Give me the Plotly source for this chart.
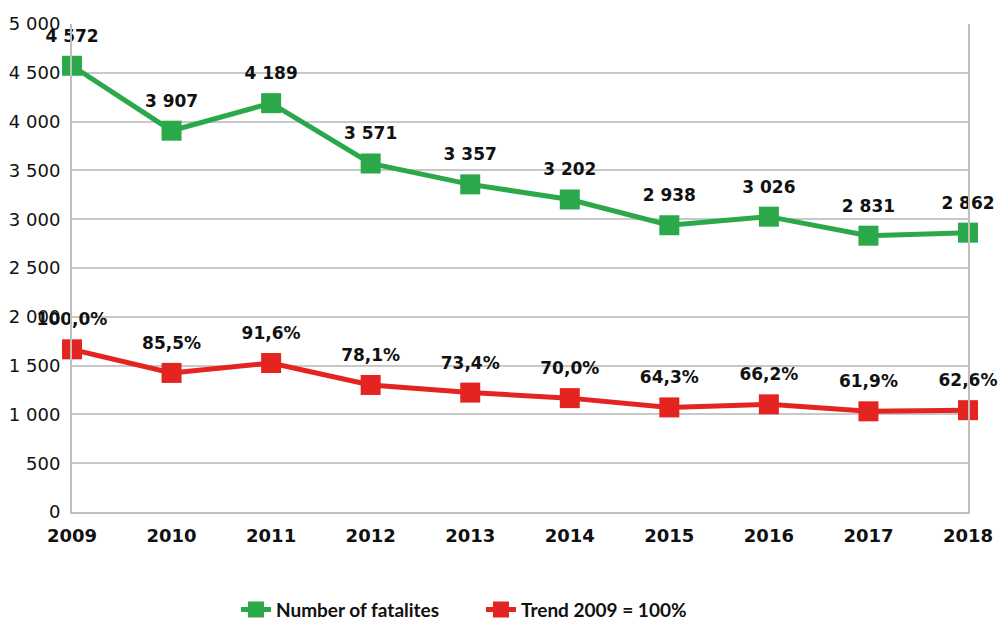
import plotly.graph_objects as go

years = [2009, 2010, 2011, 2012, 2013, 2014, 2015, 2016, 2017, 2018]
fatalities = [4572, 3907, 4189, 3571, 3357, 3202, 2938, 3026, 2831, 2862]
trend_pct = [100.0, 85.5, 91.6, 78.1, 73.4, 70.0, 64.3, 66.2, 61.9, 62.6]
y_ticks = [0, 500, 1000, 1500, 2000, 2500, 3000, 3500, 4000, 4500, 5000]

green = "#2BA84A"
red = "#E32421"

def fmt_int(v):
    return f"{v:,}".replace(",", " ")

def fmt_pct(v):
    return f"{v:.1f}%".replace(".", ",")

label_font = dict(family="DejaVu Sans", size=17, color="#111111", weight="bold")

trend_frac = [v / 100 for v in trend_pct]

fig = go.Figure()
fig.add_trace(go.Scatter(
    x=years, y=fatalities, name="Number of fatalites",
    mode="lines+markers",
    line=dict(color=green, width=5),
    marker=dict(symbol="square", size=20, color=green),
    cliponaxis=False,
))
fig.add_trace(go.Scatter(
    x=years, y=trend_frac, name="Trend 2009 = 100%",
    yaxis="y2",
    mode="lines+markers",
    line=dict(color=red, width=5),
    marker=dict(symbol="square", size=20, color=red),
    cliponaxis=False,
))
# data labels (transparent, slightly larger markers give the labels a bit more clearance)
fig.add_trace(go.Scatter(
    x=years, y=fatalities, mode="markers+text", showlegend=False, hoverinfo="skip",
    marker=dict(symbol="square", size=30, color="rgba(0,0,0,0)"),
    text=[fmt_int(v) for v in fatalities], textposition="top center",
    textfont=label_font, cliponaxis=False,
))
fig.add_trace(go.Scatter(
    x=years, y=trend_frac, yaxis="y2", mode="markers+text", showlegend=False, hoverinfo="skip",
    marker=dict(symbol="square", size=30, color="rgba(0,0,0,0)"),
    text=[fmt_pct(v) for v in trend_pct], textposition="top center",
    textfont=label_font, cliponaxis=False,
))

fig.update_layout(
    width=999, height=621,
    margin=dict(l=72, r=31, t=24, b=109, autoexpand=False),
    paper_bgcolor="white", plot_bgcolor="white",
    showlegend=True,
    legend=dict(orientation="h", x=0.183, y=-0.2, xanchor="left", yanchor="middle",
                font=dict(family="Lato", size=19, color="#111111", weight="bold"),
                entrywidth=200, entrywidthmode="pixels", tracegroupgap=0),
    xaxis=dict(range=[2009, 2018], tickmode="array", tickvals=years,
               ticktext=[str(y) for y in years],
               tickfont=dict(family="DejaVu Sans", size=18, color="#111111", weight="bold"),
               showgrid=False, showline=True, linecolor="#BFBFBF", linewidth=2,
               ticks="", zeroline=False, automargin=False, ticklabelstandoff=6),
    yaxis=dict(range=[0, 5000], tickmode="array", tickvals=y_ticks,
               ticktext=[fmt_int(v) for v in y_ticks],
               tickfont=dict(family="DejaVu Sans", size=18, color="#111111"),
               showgrid=True, gridcolor="#C8C8C8", gridwidth=1.5,
               showline=True, linecolor="#BFBFBF", linewidth=2,
               zeroline=False, ticks="", automargin=False, ticklabelstandoff=6),
    yaxis2=dict(range=[0, 3], overlaying="y", side="right", showticklabels=False,
                showgrid=False, showline=True, linecolor="#BFBFBF", linewidth=2,
                zeroline=False, ticks="", automargin=False),
)

# remove the browser's default 8px body margin so the 999x621 figure fills the window exactly
page_fix = (
    "document.body.style.margin='0';"
    "document.body.style.overflow='hidden';"
    "document.documentElement.style.overflow='hidden';"
)
fig.write_html("out.html", post_script=page_fix, config={"displayModeBar": False})
